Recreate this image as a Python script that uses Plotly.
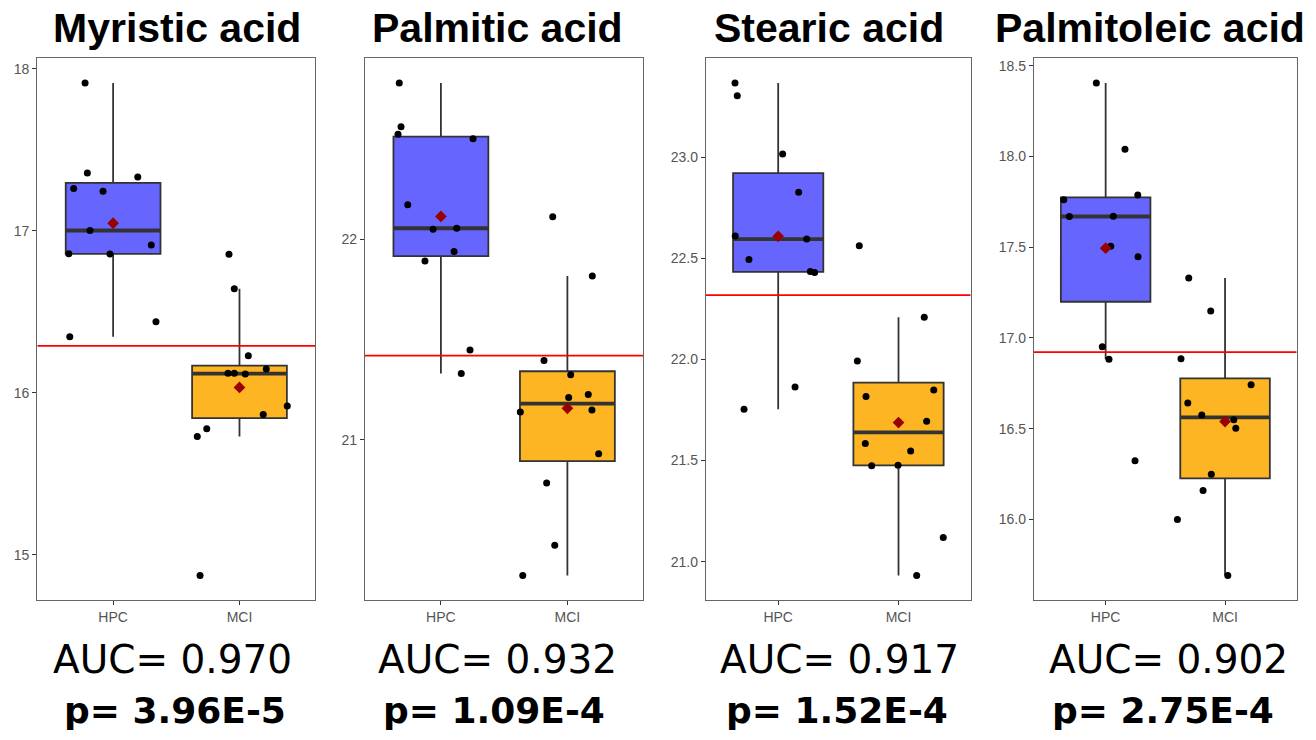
import numpy as np
import plotly.graph_objects as go

# ---- data -------------------------------------------------------------
panel_titles = ["Myristic acid", "Palmitic acid", "Stearic acid", "Palmitoleic acid"]
groups = ["HPC", "MCI"]
auc_values = ["0.970", "0.932", "0.917", "0.902"]
p_values = ["3.96E-5", "1.09E-4", "1.52E-4", "2.75E-4"]
cutoffs = [16.29, 21.42, 22.318, 16.922]

myristic_hpc = [17.913, 17.357, 17.332, 17.261, 17.244, 17.002, 16.912, 16.858, 16.857, 16.346, 16.438]
myristic_mci = [16.855, 16.643, 16.229, 16.147, 16.120, 16.120, 16.116, 15.919, 15.866, 15.778, 15.730, 14.873]
palmitic_hpc = [22.782, 22.563, 22.525, 22.503, 22.174, 22.051, 22.056, 21.940, 21.893, 21.448, 21.330]
palmitic_mci = [22.113, 21.817, 21.395, 21.324, 21.211, 21.226, 21.148, 21.138, 20.929, 20.784, 20.473, 20.322]
stearic_hpc = [23.367, 23.303, 23.015, 22.827, 22.610, 22.595, 22.494, 22.435, 22.430, 21.864, 21.754]
stearic_mci = [22.562, 22.208, 21.992, 21.849, 21.816, 21.694, 21.584, 21.547, 21.474, 21.476, 21.119, 20.932]
palmitoleic_hpc = [18.405, 18.040, 17.787, 17.762, 17.669, 17.670, 17.505, 17.447, 16.952, 16.883, 16.323]
palmitoleic_mci = [17.330, 17.148, 16.885, 16.742, 16.641, 16.575, 16.549, 16.502, 16.249, 16.159, 16.000, 15.692]

# horizontal jitter of each dot (category units)
myristic_hpc_jitter = [-0.222, -0.204, 0.195, -0.312, -0.080, -0.183, 0.302, -0.351, -0.025, -0.343, 0.339]
myristic_mci_jitter = [-0.083, -0.041, 0.070, 0.212, -0.091, -0.041, 0.046, 0.378, 0.188, -0.259, -0.334, -0.312]
palmitic_hpc_jitter = [-0.329, -0.315, -0.339, 0.254, -0.262, -0.062, 0.125, 0.104, -0.126, 0.230, 0.161]
palmitic_mci_jitter = [-0.116, 0.197, -0.185, 0.026, 0.010, 0.165, 0.194, -0.372, 0.247, -0.164, -0.100, -0.353]
stearic_hpc_jitter = [-0.359, -0.340, 0.037, 0.170, -0.357, 0.237, -0.243, 0.267, 0.303, 0.140, -0.284]
stearic_mci_jitter = [-0.326, 0.214, -0.342, 0.293, -0.270, 0.234, -0.276, 0.101, -0.223, -0.004, 0.372, 0.151]
palmitoleic_hpc_jitter = [-0.078, 0.162, 0.269, -0.351, -0.304, 0.064, 0.043, 0.271, -0.028, 0.028, 0.246]
palmitoleic_mci_jitter = [-0.304, -0.120, -0.369, 0.218, -0.312, -0.195, 0.073, 0.090, -0.115, -0.184, -0.399, 0.023]

y_tick_values = [
    [15, 16, 17, 18],
    [21, 22],
    [21.0, 21.5, 22.0, 22.5, 23.0],
    [16.0, 16.5, 17.0, 17.5, 18.0, 18.5],
]
y_tick_labels = [
    ["15", "16", "17", "18"],
    ["21", "22"],
    ["21.0", "21.5", "22.0", "22.5", "23.0"],
    ["16.0", "16.5", "17.0", "17.5", "18.0", "18.5"],
]

panels = [
    (myristic_hpc, myristic_mci, myristic_hpc_jitter, myristic_mci_jitter),
    (palmitic_hpc, palmitic_mci, palmitic_hpc_jitter, palmitic_mci_jitter),
    (stearic_hpc, stearic_mci, stearic_hpc_jitter, stearic_mci_jitter),
    (palmitoleic_hpc, palmitoleic_mci, palmitoleic_hpc_jitter, palmitoleic_mci_jitter),
]

# ---- layout geometry (pixels) -----------------------------------------
W, H = 1316, 740
panel_px = [(37.3, 315.3), (365.0, 643.3), (706.0, 970.7), (1034.0, 1296.7)]
plot_top, plot_bottom = 58.3, 600.0
title_cx = [177, 497, 829, 1150]
auc_cx = [172, 497, 839, 1168]
p_cx = [175, 494, 837, 1163]

group_fill = ["#6666FF", "#FDB523"]
edge = "#333333"
box_w = 0.75


def box_stats(vals):
    v = np.sort(np.asarray(vals, float))
    q1, med, q3 = np.percentile(v, [25, 50, 75])
    iqr = q3 - q1
    lo = v[v >= q1 - 1.5 * iqr].min()
    hi = v[v <= q3 + 1.5 * iqr].max()
    return q1, med, q3, lo, hi


fig = go.Figure()
layout_axes = {}

for i, (hpc, mci, hpc_j, mci_j) in enumerate(panels):
    n = "" if i == 0 else str(i + 1)
    xa, ya = "x" + n, "y" + n
    allv = np.concatenate([hpc, mci])
    span = allv.max() - allv.min()
    yrange = [allv.min() - 0.05 * span, allv.max() + 0.05 * span]

    for g, (vals, jit) in enumerate([(hpc, hpc_j), (mci, mci_j)]):
        pos = g + 1
        q1, med, q3, lo, hi = box_stats(vals)
        fig.add_trace(go.Box(
            x=[pos], q1=[q1], median=[med], q3=[q3],
            lowerfence=[lo], upperfence=[hi],
            width=box_w, whiskerwidth=0, boxpoints=False,
            fillcolor=group_fill[g], line=dict(color=edge, width=1.8),
            xaxis=xa, yaxis=ya, showlegend=False, hoverinfo="skip",
        ))
        # thick median bar
        fig.add_trace(go.Scatter(
            x=[pos - box_w / 2, pos + box_w / 2], y=[med, med], mode="lines",
            line=dict(color=edge, width=3.8), xaxis=xa, yaxis=ya,
            showlegend=False, hoverinfo="skip",
        ))
        # jittered observations
        fig.add_trace(go.Scatter(
            x=[pos + d for d in jit], y=vals, mode="markers",
            marker=dict(color="black", size=7), xaxis=xa, yaxis=ya,
            showlegend=False, hoverinfo="skip",
        ))
        # group mean
        fig.add_trace(go.Scatter(
            x=[pos], y=[float(np.mean(vals))], mode="markers",
            marker=dict(color="#990000", size=9, symbol="diamond"),
            xaxis=xa, yaxis=ya, showlegend=False, hoverinfo="skip",
        ))

    # cut-off line
    fig.add_trace(go.Scatter(
        x=[0.4, 2.6], y=[cutoffs[i], cutoffs[i]], mode="lines",
        line=dict(color="#FF0000", width=1.8), xaxis=xa, yaxis=ya,
        showlegend=False, hoverinfo="skip",
    ))

    x0, x1 = panel_px[i]
    axis_common = dict(
        showline=True, mirror=True, linecolor="#666666", linewidth=1.4,
        showgrid=False, zeroline=False, ticks="outside", ticklen=4,
        tickcolor="#333333", tickwidth=1.2,
        tickfont=dict(family="Liberation Sans, Arial, sans-serif", size=14, color="#555555"),
    )
    layout_axes["xaxis" + n] = dict(
        axis_common, domain=[x0 / W, x1 / W], range=[0.4, 2.6],
        tickvals=[1, 2], ticktext=groups, anchor=ya,
    )
    layout_axes["yaxis" + n] = dict(
        axis_common, domain=[1 - plot_bottom / H, 1 - plot_top / H], range=yrange,
        tickvals=y_tick_values[i], ticktext=y_tick_labels[i], anchor=xa,
    )

annotations = []
for i in range(4):
    annotations.append(dict(
        text=panel_titles[i], x=title_cx[i] / W, y=1 - 28 / H, xref="paper", yref="paper",
        xanchor="center", yanchor="middle", showarrow=False,
        font=dict(family="Liberation Sans, Arial, sans-serif", size=41, color="black", weight="bold"),
    ))
    annotations.append(dict(
        text="AUC= " + auc_values[i], x=auc_cx[i] / W, y=1 - 659 / H, xref="paper", yref="paper",
        xanchor="center", yanchor="middle", showarrow=False,
        font=dict(family="DejaVu Sans, sans-serif", size=39, color="black"),
    ))
    annotations.append(dict(
        text="p= " + p_values[i], x=p_cx[i] / W, y=1 - 710 / H, xref="paper", yref="paper",
        xanchor="center", yanchor="middle", showarrow=False,
        font=dict(family="DejaVu Sans, sans-serif", size=36, color="black", weight="bold"),
    ))

fig.update_layout(
    width=W, height=H, margin=dict(l=0, r=0, t=0, b=0),
    paper_bgcolor="white", plot_bgcolor="white",
    annotations=annotations, showlegend=False,
    **layout_axes,
)

fig.write_html("out.html")
